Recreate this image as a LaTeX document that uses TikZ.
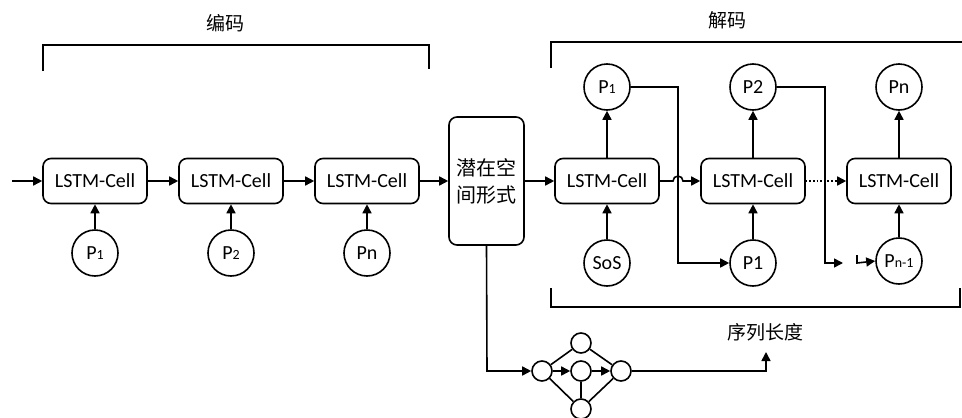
\documentclass[tikz,border=0pt]{standalone}
\usepackage{fontspec}
\setmainfont{Carlito}
\newfontfamily\cjk{Noto Sans CJK SC}
\usetikzlibrary{arrows.meta}
\newcommand{\sm}[1]{{\fontsize{14}{14}\selectfont #1}}
\begin{document}
\begin{tikzpicture}[x=1pt,y=-1pt,
  lw/.style={line width=1.6pt},
  arr/.style={lw,-{Triangle[length=9pt,width=9pt]}},
  cell/.style={draw,lw,rounded corners=8pt,minimum width=104pt,minimum height=45pt,inner sep=0pt,font=\fontsize{20}{22}\selectfont},
  tok/.style={draw,lw,circle,minimum size=46pt,inner sep=0pt,font=\fontsize{20}{22}\selectfont},
  small/.style={draw,lw,circle,minimum size=20pt,inner sep=0pt},
  brk/.style={line width=1.5pt},
  lbl/.style={font=\cjk\fontsize{19}{21}\selectfont}]
\useasboundingbox (0,0) rectangle (962,418);
% titles and brackets
\node[lbl] (tenc) at (225,23) {编码};
\node[lbl] (tdec) at (727,20) {解码};
\draw[brk] (43,71) -- (43,45) -- (429,45) -- (429,69);
\draw[brk] (551,68) -- (551,42) -- (962,42);
\draw[brk] (551,288) -- (551,307) -- (960,307) -- (960,288);
% encoder
\coordinate (in) at (12,181);
\node[cell] (e1) at (95,181) {LSTM-Cell};
\node[cell] (e2) at (231,181) {LSTM-Cell};
\node[cell] (e3) at (367,181) {LSTM-Cell};
\node[tok] (ep1) at (95,253) {P\sm{1}};
\node[tok] (ep2) at (231,253) {P\sm{2}};
\node[tok] (epn) at (367,253) {Pn};
\draw[arr] (in) -- (e1);
\draw[arr] (e1) -- (e2);
\draw[arr] (e2) -- (e3);
\draw[arr] (ep1) -- (e1);
\draw[arr] (ep2) -- (e2);
\draw[arr] (epn) -- (e3);
% latent
\node[draw,lw,rounded corners=8pt,minimum width=75pt,minimum height=128pt,inner sep=0pt,align=center,font=\cjk\fontsize{20}{27}\selectfont] (lat) at (486.5,181) {潜在空\\间形式};
\draw[arr] (e3) -- (lat);
% decoder
\node[cell] (d1) at (607,181) {LSTM-Cell};
\node[cell] (d2) at (753,181) {LSTM-Cell};
\node[cell] (d3) at (899,181) {LSTM-Cell};
\node[tok] (o1) at (607,87) {P\sm{1}};
\node[tok] (o2) at (753,87) {P2};
\node[tok] (on) at (899,87) {Pn};
\node[tok] (sos) at (607,263) {SoS};
\node[tok] (i1) at (753,263) {P1};
\node[tok] (in1) at (899,261) {P\sm{n-1}};
\draw[arr] (lat) -- (d1);
\draw[arr] (d1.east) -- (673,181) arc[start angle=180,end angle=0,radius=5pt] -- (d2.west);
\draw[lw,dotted] (d2.east) -- (838,181);
\draw[arr] (836,181) -- (d3.west);
\draw[arr] (d1) -- (o1);
\draw[arr] (d2) -- (o2);
\draw[arr] (d3) -- (on);
\draw[arr] (sos) -- (d1);
\draw[arr] (i1) -- (d2);
\draw[arr] (in1) -- (d3);
\draw[arr] (o1.east) -- (678,87) -- (678,263) -- (i1.west);
\coordinate (gap) at (843,263);
\coordinate (lstart) at (857,255);
\draw[arr] (o2.east) -- (825,87) -- (825,263) -- (gap);
\draw[arr] (lstart) -- (857,263) -- (in1.west);
% length predictor
\node[small] (na) at (542,371) {};
\node[small] (nt) at (581,343) {};
\node[small] (nm) at (581,371) {};
\node[small] (nb) at (581,409) {};
\node[small] (nr) at (621,371) {};
\node[lbl] (len) at (765,332) {序列长度};
\coordinate (lenin) at (766,352);
\draw[arr] (lat.south) -- (487,371) -- (na);
\draw[lw] (na) -- (nt) -- (nr);
\draw[lw] (na) -- (nb) -- (nr);
\draw[lw] (nm) -- (nb);
\draw[arr] (na) -- (nm);
\draw[arr] (nm) -- (nr);
\draw[arr] (nr) -- (766,371) -- (lenin);
\end{tikzpicture}
\end{document}
